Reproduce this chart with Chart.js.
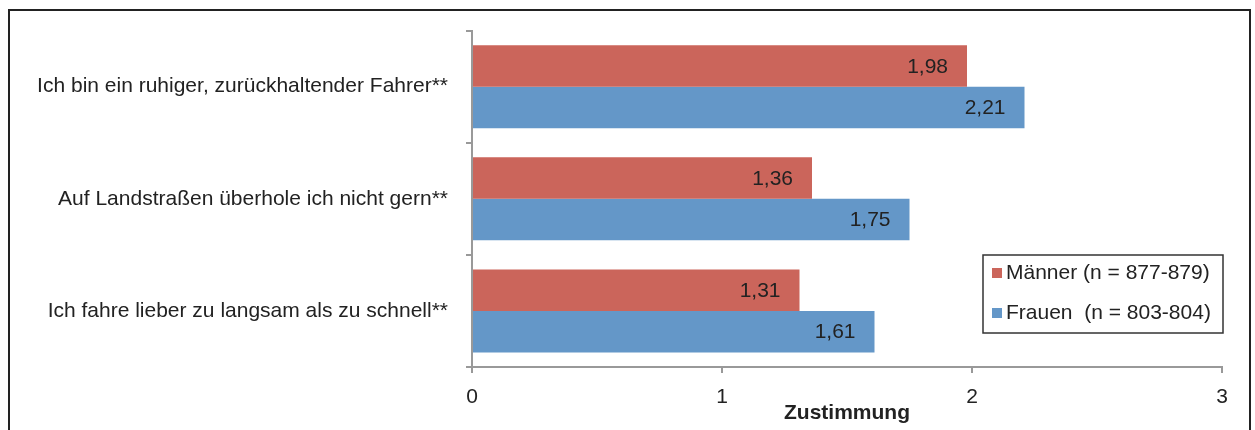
<!DOCTYPE html>
<html>
<head>
<meta charset="utf-8">
<script src="https://cdn.jsdelivr.net/npm/chart.js@4.4.0/dist/chart.umd.min.js"></script>
<style>
	body{margin:0;background:#fff;}
	#wrap{position:relative;width:1255px;height:430px;overflow:hidden;}
	#frame{position:absolute;left:8px;top:9px;width:1243px;height:440px;border:2px solid #222;box-sizing:border-box;}
	#chart{position:absolute;left:0;top:0;}
</style>
</head>
<body>
<div id="wrap">
	<div id="frame"></div>
	<canvas id="chart" width="1255" height="430"></canvas>
</div>
<script>
var categories = [
	'Ich bin ein ruhiger, zurückhaltender Fahrer**',
	'Auf Landstraßen überhole ich nicht gern**',
	'Ich fahre lieber zu langsam als zu schnell**'
];
var maennerValues = [1.98, 1.36, 1.31];
var frauenValues = [2.21, 1.75, 1.61];
var seriesLabels = ['Männer (n = 877-879)', 'Frauen  (n = 803-804)'];
var xTicks = [0, 1, 2, 3];
var xTitle = 'Zustimmung';

var FONT = '"Liberation Sans", Arial, sans-serif';

function fmt(v){
	return v.toFixed(2).replace('.', ',');
}

// value labels at the inner end of each bar
var barLabels = {
	id: 'barLabels',
	afterDatasetsDraw: function(chart){
		var ctx = chart.ctx;
		ctx.save();
		ctx.font = '21px ' + FONT;
		ctx.fillStyle = '#222';
		ctx.textAlign = 'right';
		ctx.textBaseline = 'middle';
		chart.data.datasets.forEach(function(ds, i){
			chart.getDatasetMeta(i).data.forEach(function(bar, j){
				ctx.fillText(fmt(ds.data[j]), bar.x - 19, bar.y + 1);
			});
		});
		ctx.restore();
	}
};

// boxed legend sitting in the lower right of the plot
var boxLegend = {
	id: 'boxLegend',
	afterDraw: function(chart){
		var ctx = chart.ctx;
		var x = 983, y = 255, w = 240, h = 78;
		ctx.save();
		ctx.fillStyle = '#fff';
		ctx.fillRect(x, y, w, h);
		ctx.strokeStyle = '#333';
		ctx.lineWidth = 1.5;
		ctx.strokeRect(x, y, w, h);
		ctx.font = '21px ' + FONT;
		ctx.textBaseline = 'middle';
		ctx.textAlign = 'left';
		chart.data.datasets.forEach(function(ds, i){
			var cy = y + 18 + i * 40;
			ctx.fillStyle = ds.backgroundColor;
			ctx.fillRect(x + 9, cy - 5, 10, 10);
			ctx.fillStyle = '#222';
			ctx.fillText(ds.label, x + 23, cy);
		});
		ctx.restore();
	}
};

var chart = new Chart(document.getElementById('chart'), {
	type: 'bar',
	data: {
		labels: categories,
		datasets: [
			{ label: seriesLabels[0], data: maennerValues, backgroundColor: '#CB655B' },
			{ label: seriesLabels[1], data: frauenValues, backgroundColor: '#6497C8' }
		]
	},
	options: {
		indexAxis: 'y',
		responsive: false,
		animation: false,
		layout: { padding: { left: 0, right: 33, top: 30, bottom: 0 } },
		datasets: { bar: { categoryPercentage: 0.74, barPercentage: 1 } },
		plugins: {
			legend: { display: false },
			tooltip: { enabled: false }
		},
		scales: {
			y: {
				afterFit: function(scale){ scale.width = 472; },
				grid: { drawOnChartArea: false, tickLength: 6, color: '#999', lineWidth: 2 },
				border: { color: '#999', width: 2 },
				ticks: { color: '#222', padding: 18, font: { size: 21, family: FONT } }
			},
			x: {
				min: 0,
				max: 3,
				afterFit: function(scale){ scale.height = 63; },
				afterBuildTicks: function(scale){
					scale.ticks = xTicks.map(function(v){ return { value: v }; });
				},
				grid: { drawOnChartArea: false, tickLength: 6, color: '#999', lineWidth: 2 },
				border: { color: '#999', width: 2 },
				ticks: { color: '#222', padding: 12, font: { size: 21, family: FONT } },
				title: {
					display: true,
					text: xTitle,
					color: '#222',
					padding: { top: 0, bottom: 4 },
					font: { size: 21, weight: 'bold', family: FONT }
				}
			}
		}
	},
	plugins: [barLabels, boxLegend]
});
</script>
</body>
</html>
